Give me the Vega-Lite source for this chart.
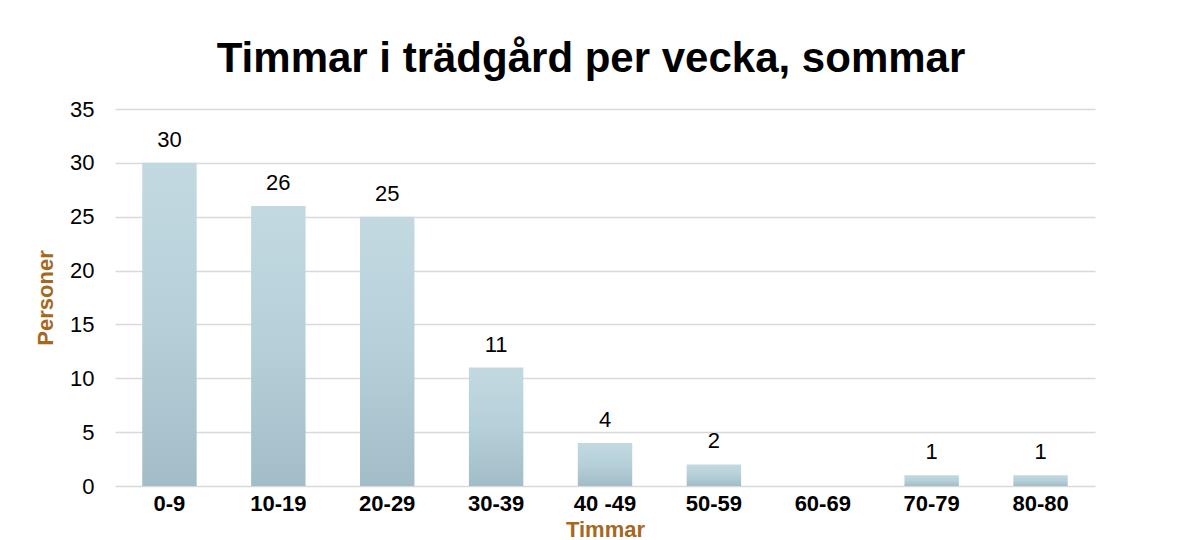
{
  "$schema": "https://vega.github.io/schema/vega-lite/v6.json",
  "autosize": "none",
  "width": 980,
  "height": 377,
  "padding": {"left": 115, "top": 109, "right": 87, "bottom": 54},
  "background": "white",
  "title": {
    "text": "Timmar i trädgård per vecka, sommar",
    "font": "Liberation Sans",
    "fontSize": 42,
    "fontWeight": "bold",
    "color": "#000000",
    "anchor": "middle",
    "frame": "group",
    "dx": -14,
    "baseline": "alphabetic",
    "offset": -16
  },
  "data": {
    "values": [
      {"Timmar": "0-9", "Personer": 30},
      {"Timmar": "10-19", "Personer": 26},
      {"Timmar": "20-29", "Personer": 25},
      {"Timmar": "30-39", "Personer": 11},
      {"Timmar": "40 -49", "Personer": 4},
      {"Timmar": "50-59", "Personer": 2},
      {"Timmar": "60-69", "Personer": 0},
      {"Timmar": "70-79", "Personer": 1},
      {"Timmar": "80-80", "Personer": 1}
    ]
  },
  "encoding": {
    "x": {
      "field": "Timmar",
      "type": "nominal",
      "sort": null,
      "scale": {"paddingInner": 0.5, "paddingOuter": 0.25},
      "axis": {
        "title": "Timmar",
        "titleFont": "Liberation Sans",
        "titleFontSize": 22,
        "titleFontWeight": "bold",
        "titleColor": "#A5681E",
        "titlePadding": 5,
        "labelFont": "Liberation Sans",
        "labelFontSize": 22,
        "labelFontWeight": "bold",
        "labelColor": "#000000",
        "labelAngle": 0,
        "labelPadding": 7,
        "ticks": false,
        "domain": false,
        "grid": false
      }
    },
    "y": {
      "field": "Personer",
      "type": "quantitative",
      "scale": {"domain": [0, 35], "nice": false},
      "axis": {
        "title": "Personer",
        "values": [0, 5, 10, 15, 20, 25, 30, 35],
        "titleFont": "Liberation Sans",
        "titleFontSize": 22,
        "titleFontWeight": "bold",
        "titleColor": "#A5681E",
        "titlePadding": 12,
        "labelFont": "Liberation Sans",
        "labelFontSize": 22,
        "labelColor": "#000000",
        "labelPadding": 21,
        "ticks": false,
        "domain": false,
        "grid": true,
        "gridColor": "#d9d9d9",
        "gridWidth": 1.5
      }
    }
  },
  "layer": [
    {
      "mark": {
        "type": "bar",
        "color": {
          "gradient": "linear",
          "x1": 0, "y1": 0, "x2": 0, "y2": 1,
          "stops": [
            {"offset": 0, "color": "#c3d9e1"},
            {"offset": 0.5, "color": "#b5d0d9"},
            {"offset": 1, "color": "#a2bdc7"}
          ]
        }
      }
    },
    {
      "transform": [{"filter": "datum.Personer > 0"}],
      "mark": {
        "type": "text",
        "font": "Liberation Sans",
        "fontSize": 22,
        "color": "#000000",
        "baseline": "alphabetic",
        "dy": -16
      },
      "encoding": {
        "text": {"field": "Personer", "type": "quantitative"}
      }
    }
  ],
  "config": {
    "view": {"stroke": null}
  }
}
